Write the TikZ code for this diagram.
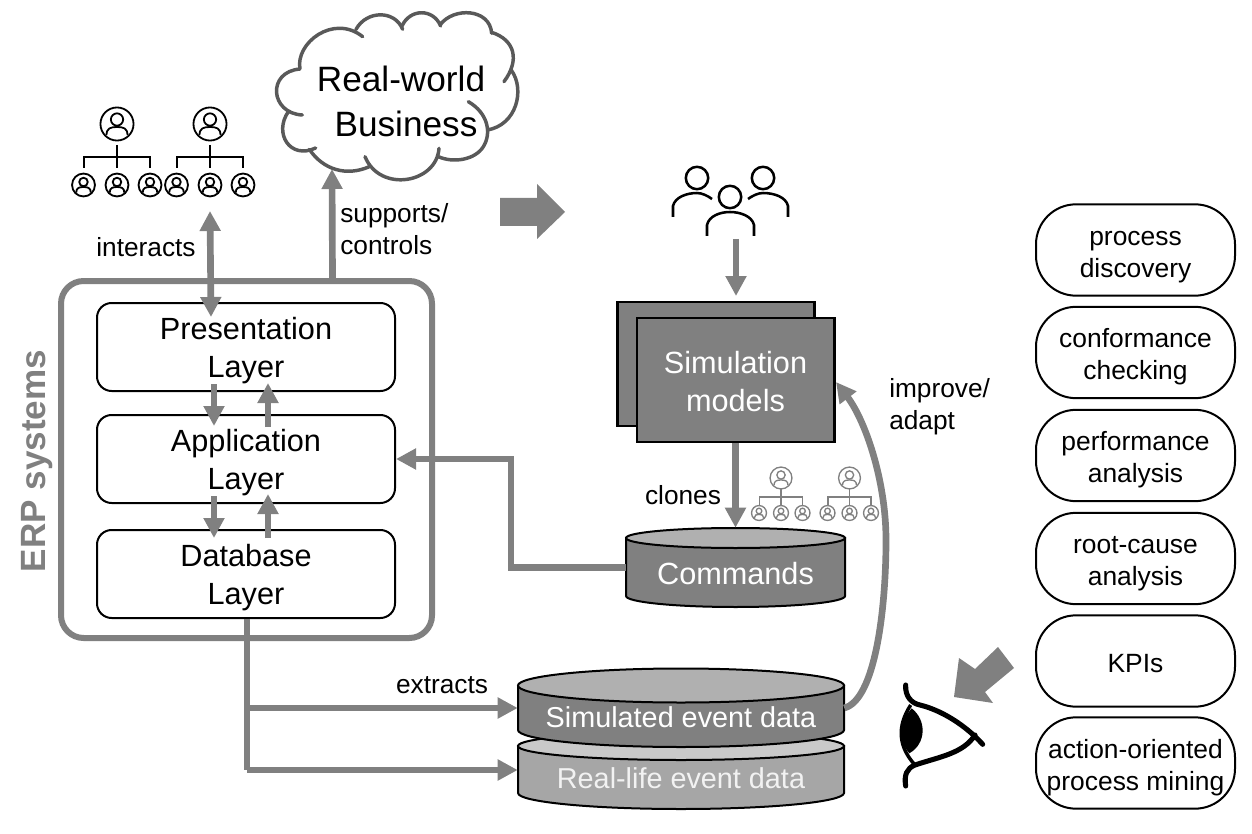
\documentclass[tikz,border=0pt]{standalone}
\usepackage{fontspec}
\setmainfont{Liberation Sans}
\usetikzlibrary{arrows.meta}
\definecolor{flowgray}{HTML}{808080}
\definecolor{cloudgray}{HTML}{595959}
\newcommand{\cylshape}[8]{% x1,x2,ytopcentre,ybot,rx,rytop,rybot,colour
  \draw[cylline,fill=#8] (#1,#3) -- (#1,#4) arc[start angle=180,end angle=360,x radius=#5*.75pt,y radius=#7*.75pt] -- (#2,#3) -- cycle;
}
\newcommand{\cyltop}[5]{% cx,cy,rx,ry,colour
  \draw[cylline,fill=#5] (#1,#2) ellipse[x radius=#3*.75pt,y radius=#4*.75pt];
}
\newcommand{\pilltop}{\rule{0pt}{16.5pt}}
\tikzset{
  flow/.style={draw=flowgray,line width=5pt,-{Triangle[length=15pt,width=15pt]}},
  flowboth/.style={draw=flowgray,line width=5pt,{Triangle[length=15pt,width=15pt]}-{Triangle[length=15pt,width=15pt]}},
  flowplain/.style={draw=flowgray,line width=5pt},
  blockarrow/.style={fill=flowgray,draw=none},
  layerbox/.style={draw=black,line width=1.5pt,rounded corners=11pt,fill=white,minimum width=223.5pt,minimum height=66pt,inner sep=0pt,align=center,text depth=0pt,font=\fontsize{23}{28.5}\selectfont},
  pillbox/.style={draw=black,line width=1.5pt,rounded corners=30pt,minimum width=149.25pt,minimum height=68.5pt,inner sep=0pt,align=center,text depth=0pt,font=\fontsize{19.8}{24}\selectfont},
  simbox/.style={draw=black,line width=2pt,fill=flowgray,minimum width=148pt,minimum height=93pt,inner sep=0pt,align=center,text=white,font=\fontsize{23}{28.5}\selectfont},
  cylline/.style={draw=black,line width=1.5pt},
  cyllabel/.style={inner sep=0pt,text=white,align=center},
  lbl/.style={inner sep=0pt,font=\fontsize{19.7}{24}\selectfont,align=left},
  iconline/.style={line width=1.35pt},
  grayline/.style={line width=1pt,draw=flowgray},
  person/.pic={
    \draw[iconline] (0,0) circle[radius=12.4pt];
    \draw[iconline] (0,-4.5) circle[radius=4.6pt];
    \draw[iconline] (-10.5,11) .. controls (-10.5,4) and (-6,3) .. (0,3) .. controls (6,3) and (10.5,4) .. (10.5,11);
  },
  smallperson/.pic={
    \draw[iconline] (0,0) circle[radius=8.6pt];
    \draw[iconline] (0,-3) circle[radius=3.2pt];
    \draw[iconline] (-7.3,7.6) .. controls (-7.3,2.8) and (-4,2) .. (0,2) .. controls (4,2) and (7.3,2.8) .. (7.3,7.6);
  },
  orgtree/.pic={
    \pic {person};
    \draw[iconline] (0,21) -- (0,44);
    \draw[iconline] (-33,44) -- (-33,33) -- (33,33) -- (33,44);
    \pic at (-33.5,61) {smallperson};
    \pic at (0,61) {smallperson};
    \pic at (33,61) {smallperson};
  },
  grayperson/.pic={
    \draw[grayline] (0,0) circle[radius=8.2pt];
    \draw[grayline] (0,-3) circle[radius=3.1pt];
    \draw[grayline] (-7,7.2) .. controls (-7,2.8) and (-4,2) .. (0,2) .. controls (4,2) and (7,2.8) .. (7,7.2);
  },
  graysmall/.pic={
    \draw[grayline] (0,0) circle[radius=5.6pt];
    \draw[grayline] (0,-2) circle[radius=2.1pt];
    \draw[grayline] (-4.7,5) .. controls (-4.7,2) and (-2.6,1.4) .. (0,1.4) .. controls (2.6,1.4) and (4.7,2) .. (4.7,5);
  },
  graytree/.pic={
    \pic {grayperson};
    \draw[grayline] (0,11) -- (0,27);
    \draw[grayline] (-21.5,27) -- (-21.5,19) -- (21.5,19) -- (21.5,27);
    \pic at (-22,35) {graysmall};
    \pic at (0,35) {graysmall};
    \pic at (21.5,35) {graysmall};
  }
}
\begin{document}
\begin{tikzpicture}[x=.75pt,y=-.75pt]
\useasboundingbox (0,0) rectangle (1252,834);

% ---- cloud
\begin{scope}[shift={(37.5pt,0pt)},x=.25pt,y=-.25pt]
  \draw[cloudgray,line width=2.6pt,fill=white,line cap=round,line join=round]
    (750,207) .. controls (735,130) and (850,40) .. (938,110)
    (918,88) .. controls (950,30) and (1035,30) .. (1058,88)
    (1056,78) .. controls (1080,25) and (1150,25) .. (1172,78)
    (1170,75) .. controls (1210,20) and (1320,25) .. (1325,100)
    (1325,97) .. controls (1395,120) and (1410,180) .. (1362,245)
    (1385,212) .. controls (1425,270) and (1400,375) .. (1312,390)
    (1255,305) .. controls (1315,340) and (1325,400) .. (1300,440) .. controls (1275,480) and (1210,490) .. (1165,470)
    (1167,445) .. controls (1160,550) and (990,580) .. (945,470)
    (958,500) .. controls (890,530) and (820,510) .. (778,448)
    (797,444) .. controls (720,480) and (670,400) .. (715,335)
    (757,345) .. controls (660,340) and (650,215) .. (750,207);
\end{scope}
\node[inner sep=0pt,align=center,font=\fontsize{26.4}{33.75}\selectfont] (cloudtext) at (401,101.5) {Real-world\\\hspace*{7.5pt}Business};
\coordinate (cloudfoot) at (332,169);

% ---- org charts
\pic at (117,124) {orgtree};
\pic at (210,124) {orgtree};
\coordinate (orgfoot) at (210,211);

% ---- ERP box and layers
\node[draw=flowgray,line width=4.5pt,rounded corners=17pt,minimum width=278.25pt,minimum height=267.75pt,inner sep=0pt] (erp) at (246.5,459.5) {};
\node[rotate=90,inner sep=0pt,text=flowgray,font=\fontsize{26.3}{30}\selectfont\bfseries] (erplabel) at (37.5,461) {ERP systems};
\node[layerbox] (pres) at (246,347) {Presentation\\Layer};
\node[layerbox] (app) at (246,459) {Application\\Layer};
\node[layerbox] (db) at (246,574) {Database\\Layer};

% ---- ERP arrows
\draw[flowboth] (orgfoot) -- ([xshift=-26.25pt,yshift=-11.25pt]pres.north);
\draw[flow] ([xshift=64.5pt]erp.north) -- (cloudfoot);
\draw[flow] ([xshift=-24pt,yshift=6pt]pres.south) -- ([xshift=-24pt,yshift=-9pt]app.north);
\draw[flow] ([xshift=16.5pt,yshift=-9.75pt]app.north) -- ([xshift=16.5pt,yshift=6.75pt]pres.south);
\draw[flow] ([xshift=-24pt,yshift=6pt]app.south) -- ([xshift=-24pt,yshift=-6.75pt]db.north);
\draw[flow] ([xshift=16.5pt,yshift=-6.75pt]db.north) -- ([xshift=16.5pt,yshift=7.5pt]app.south);

\node[lbl] (interacts) at (146,247) {interacts};
\node[lbl,anchor=west] (supports) at (340,229) {supports/\\controls};

% ---- block arrow
\fill[blockarrow] (500,198) -- (537,198) -- (537,184) -- (565,212) -- (537,239) -- (537,226) -- (500,226) -- cycle;

% ---- people
\begin{scope}[line width=1.9pt,line cap=round]
  \draw (697,178) circle[radius=8.4pt];
  \draw (763,178) circle[radius=8.4pt];
  \draw (730,197) circle[radius=8.4pt];
  \draw[line cap=butt] (673,217) -- (673,206) .. controls (675,197) and (687,193) .. (697,193) .. controls (702,193) and (708,196) .. (712,199);
  \draw[line cap=butt] (788,217) -- (788,206) .. controls (786,197) and (774,193) .. (763,193) .. controls (758,193) and (752,196) .. (748,199);
  \draw[line cap=butt] (707,236) -- (707,225) .. controls (709,216) and (720,212) .. (730,212) .. controls (740,212) and (752,216) .. (754,225) -- (754,236);
\end{scope}
\coordinate (peoplefoot) at (736,239);
\coordinate (simtop) at (736,296);

% ---- simulation models
\node[simbox] (simback) at (716,364) {};
\node[simbox] (sim) at (735.5,380) {\rule{0pt}{19pt}Simulation\\models};
\draw[flow] (peoplefoot) -- (simtop);

% ---- commands
\cylshape{626}{845}{538}{596}{109.5}{10}{11}{flowgray}
\cyltop{735.5}{538}{109.5}{10}{black!31}
\node[minimum width=164.25pt,minimum height=59.25pt,inner sep=0pt] (commands) at (735.5,567.5) {};
\node[cyllabel,font=\fontsize{23}{28}\selectfont] (commandslabel) at (735.5,574) {Commands};
\draw[flow] (sim.south) -- (commands.north);
\node[lbl] (clones) at (683,495) {clones};
\pic at (781,478) {graytree};
\pic at (849.5,478) {graytree};

% ---- application feedback
\coordinate (elbow) at (511,459);
\draw[flow] (commands.west) -| (elbow) -- (app.east);

% ---- event data
\cylshape{518}{844}{746}{793}{163}{14}{16}{black!35}
\cyltop{681}{746}{163}{14}{black!21}
\cylshape{518}{844}{685.5}{730}{163}{17}{17}{flowgray}
\cyltop{681}{685.5}{163}{17}{black!31}
\node[minimum width=244.5pt,minimum height=59pt,inner sep=0pt] (simdata) at (681,708) {};
\node[minimum width=244.5pt,minimum height=35pt,inner sep=0pt] (realdata) at (681,770) {};
\node[cyllabel,font=\fontsize{21.6}{26}\selectfont] (simtext) at (681,717) {Simulated event data};
\node[cyllabel,text=black!5,font=\fontsize{21.6}{26}\selectfont] (realtext) at (681,778) {Real-life event data};

\coordinate (dbdrop) at (247,770);
\coordinate (dbbranch) at (247,708);
\draw[flowplain] (db.south -| dbdrop) -- (dbdrop);
\draw[flow] (dbbranch) -- (simdata.west);
\draw[flow] (dbdrop) -- (realdata.west);
\node[lbl] (extracts) at (442,685) {extracts};

% ---- improve/adapt
\coordinate (simport) at (836,382);
\draw[flow] (simdata.east) .. controls (875,700) and (886,610) .. (886,540) .. controls (886,480) and (865,420) .. (simport);
\node[lbl,anchor=west] (improve) at (889,407) {improve/\\adapt};

% ---- pills
\node[pillbox] (p1) at (1135.5,250) {\pilltop process\\discovery};
\node[pillbox] (p2) at (1135.5,352.5) {\pilltop conformance\\checking};
\node[pillbox] (p3) at (1135.5,455.5) {\pilltop performance\\analysis};
\node[pillbox] (p4) at (1135.5,558.5) {\pilltop root-cause\\analysis};
\node[pillbox] (p5) at (1135.5,661) {\rule{0pt}{17pt}KPIs};
\node[pillbox] (p6) at (1135.5,763) {\pilltop action-oriented\\process mining};

% ---- second block arrow
\fill[blockarrow] (954,697) -- (959,658) -- (975,669) -- (998,647) -- (1014,668) -- (985,692) -- (993,703) -- cycle;

% ---- eye
\begin{scope}[shift={(375pt,-480pt)},x=.25pt,y=-.25pt]
  \fill[black] (1235,205) .. controls (1280,240) and (1280,310) .. (1228,340) .. controls (1195,300) and (1195,250) .. (1235,205) -- cycle;
  \draw[black,line width=3.8pt,line cap=round] (1217,135) .. controls (1215,170) and (1235,190) .. (1260,195) .. controls (1340,215) and (1410,270) .. (1448,313);
  \draw[black,line width=3.8pt,line cap=round] (1425,285) .. controls (1390,340) and (1320,350) .. (1245,375) .. controls (1220,385) and (1212,405) .. (1217,438);
  \draw[black,line width=2.6pt] (1232,195) .. controls (1190,260) and (1195,320) .. (1245,375);
\end{scope}
\end{tikzpicture}
\end{document}
